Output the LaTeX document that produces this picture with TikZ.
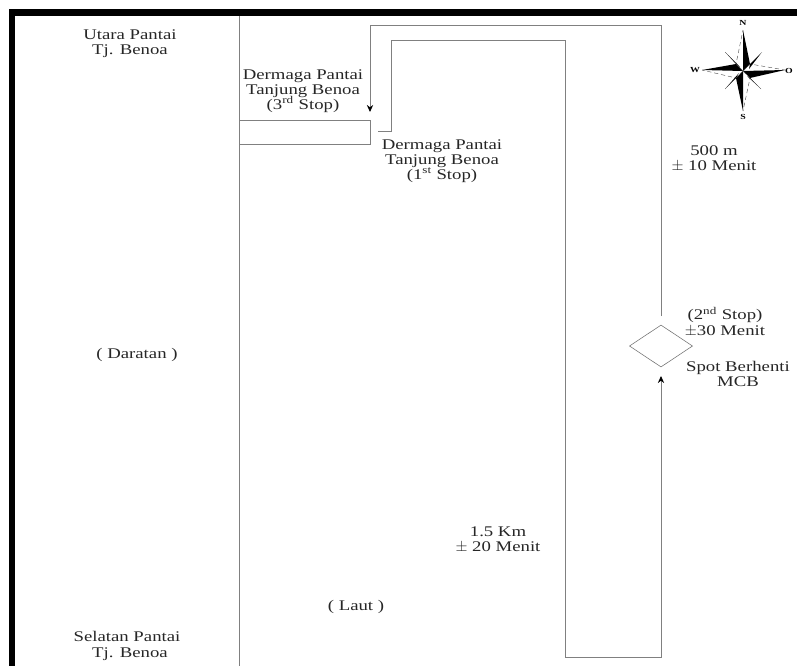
\documentclass[tikz,border=0pt]{standalone}
\usepackage{fontspec}
\setmainfont[FakeStretch=1.27]{Liberation Serif}
\usetikzlibrary{
    positioning,
    arrows.meta,
    shapes.geometric
}
\newcommand{\ordsup}[1]{\smash{\textsuperscript{#1}}}

\begin{document}
\begin{tikzpicture}[x=0.025cm, y=-0.025cm, font=\fontsize{10.5}{10.8}\selectfont,
    lab/.style={align=center, inner sep=0pt, text=black!85},
    spot/.style={draw=black!55, diamond, aspect=1.5, minimum width=1.58cm,
                 minimum height=1.05cm, inner sep=0pt},
    frame/.style={fill=black},
    line/.style={draw=black!50, line width=0.6pt},
    arr/.style={-{Stealth[black, length=5pt, width=4.5pt]}, draw=black!50, line width=0.6pt},
    dashline/.style={draw=black!70, line width=0.3pt, densely dashed},
    wind/.style={font=\fontsize{5.5}{6}\selectfont\bfseries, inner sep=0pt}]

    \useasboundingbox (0,0) rectangle (797,666);

    % ============ FRAME AND COAST ============
    \fill[frame] (9,9) rectangle (797,16);
    \fill[frame] (9,9) rectangle (15,666);

    \coordinate (coastN) at (239,16);
    \coordinate (coastS) at (239,666);
    \draw[line] (coastN) to (coastS);

    % ============ PIER ============
    \coordinate (pierA) at (239,120);
    \coordinate (pierB) at (370,120);
    \coordinate (pierC) at (370,144);
    \coordinate (pierD) at (239,144);
    \draw[line] (pierA) to (pierB) to (pierC) to (pierD);

    % ============ ROUTE ============
    \node[spot] (MCB) at (661,346) {};

    \coordinate (first) at (378,131);
    \coordinate (firstUp) at (391,131);
    \coordinate (turnA) at (391,40);
    \coordinate (turnB) at (565,40);
    \coordinate (turnC) at (565,657);
    \coordinate (turnD) at (661,657);
    \coordinate (inMCB) at (661,376);
    \draw[arr] (first) to (firstUp) to (turnA) to (turnB) to (turnC) to (turnD) to (inMCB);

    \coordinate (outMCB) at (661,316);
    \coordinate (turnE) at (661,25);
    \coordinate (turnF) at (370,25);
    \coordinate (third) at (370,112);
    \draw[arr] (outMCB) to (turnE) to (turnF) to (third);

    % ============ LABELS ============
    \node[lab] (UP) at (130,44) {Utara Pantai\\Tj. Benoa};
    \node[lab] (DT) at (303,91) {Dermaga Pantai\\Tanjung Benoa\\(3\ordsup{rd} Stop)};
    \node[lab] (DF) at (442,161) {Dermaga Pantai\\Tanjung Benoa\\(1\ordsup{st} Stop)};
    \node[lab] (TN) at (714,159) {500 m\\$\pm$ 10 Menit};
    \node[lab] (SN) at (725,323) {(2\ordsup{nd} Stop)\\$\pm$30 Menit};
    \node[lab] (SB) at (738,374) {Spot Berhenti\\MCB};
    \node[lab] (DR) at (137,355) {( Daratan )};
    \node[lab] (KM) at (498,540) {1.5 Km\\$\pm$ 20 Menit};
    \node[lab] (LT) at (356,607) {( Laut )};
    \node[lab] (SP) at (127,646) {Selatan Pantai\\\hspace*{0.4em}Tj. Benoa};

    % ============ COMPASS ============
    \coordinate (C) at (743,71);
    \fill (C) -- (750,64) -- (743,30) -- cycle;
    \fill (C) -- (750,78) -- (785,70) -- cycle;
    \fill (C) -- (736,78) -- (743,111) -- cycle;
    \fill (C) -- (736,64) -- (702,70) -- cycle;
    \draw[dashline] (C) -- (736,64) -- (743,30);
    \draw[dashline] (C) -- (750,64) -- (785,70);
    \draw[dashline] (C) -- (750,78) -- (743,111);
    \draw[dashline] (C) -- (736,78) -- (702,70);
    \fill (750,64) -- (762,52) -- (749,69) -- cycle;
    \fill (750,78) -- (761,89) -- (747,76) -- cycle;
    \fill (736,78) -- (725,89) -- (739,73) -- cycle;
    \fill (736,64) -- (725,52) -- (740,67) -- cycle;
    \node[wind] (N) at (743,23) {N};
    \node[wind] (S) at (743,117) {S};
    \node[wind] (W) at (695,70) {W};
    \node[wind] (O) at (789,71) {O};

\end{tikzpicture}
\end{document}
